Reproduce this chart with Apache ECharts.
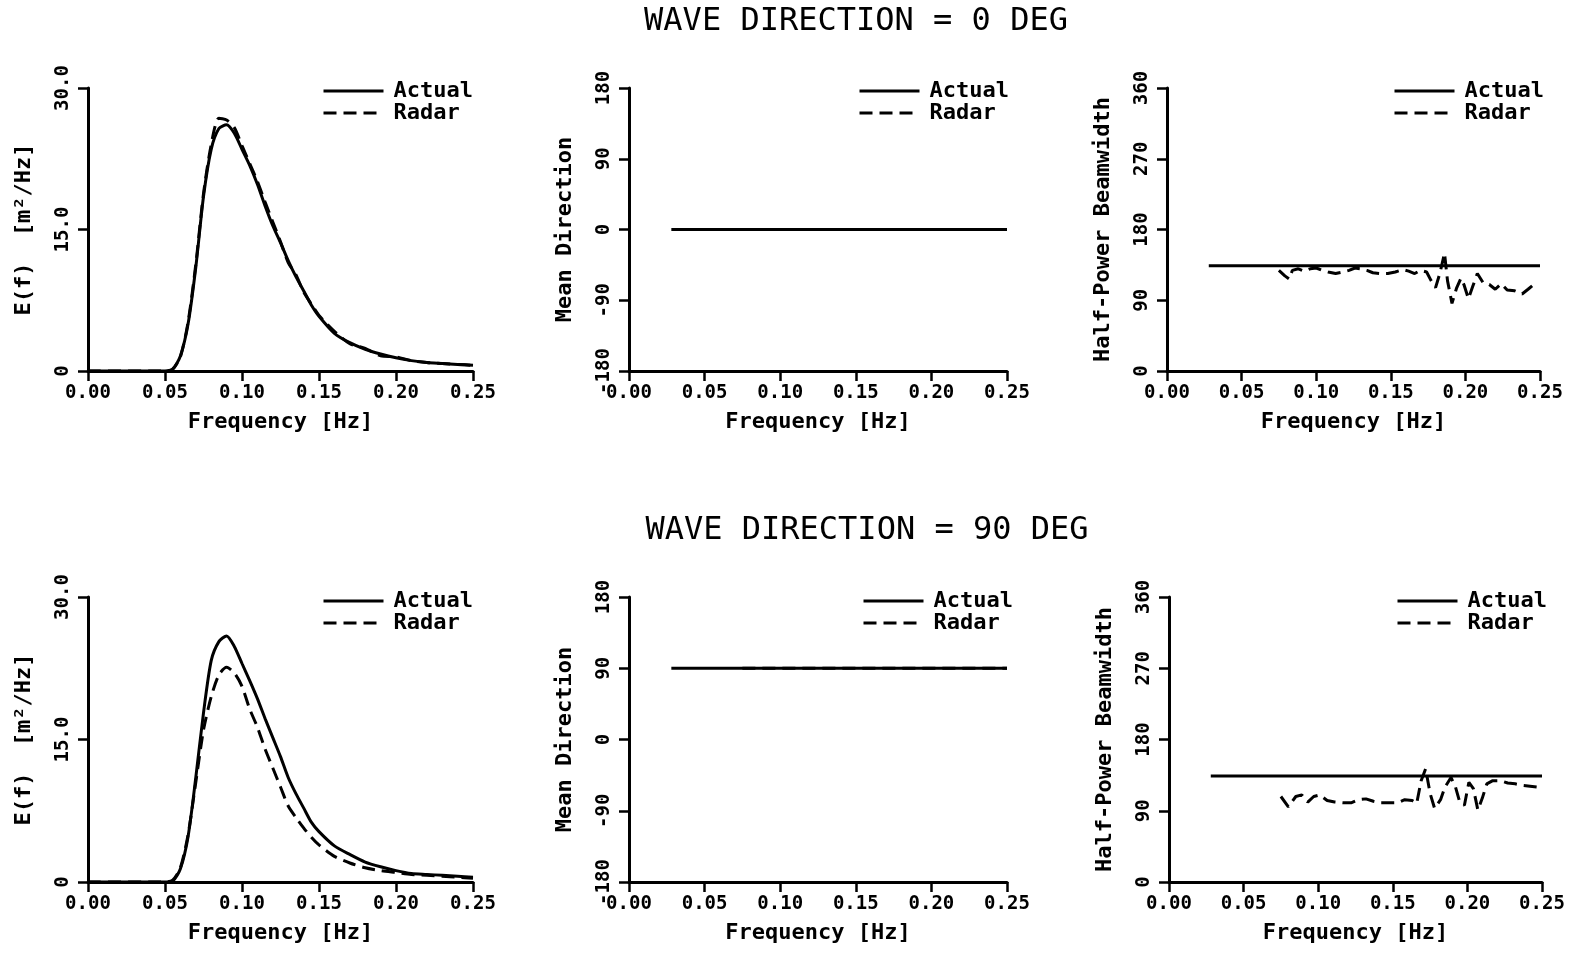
<!DOCTYPE html>
<html><head><meta charset="utf-8">
<script src="https://cdn.jsdelivr.net/npm/echarts@6/dist/echarts.min.js"></script>
<style>html,body{margin:0;padding:0;background:#fff}#c{width:1595px;height:953px}</style>
</head><body><div id="c"></div><script>
// ---------- DATA ----------
const rowTitles = ['WAVE DIRECTION = 0 DEG', 'WAVE DIRECTION = 90 DEG'];
const seriesNames = ['Actual', 'Radar'];
const xTicks = [0, 0.05, 0.10, 0.15, 0.20, 0.25];
const eTicks = [0, 15, 30];
const dirTicks = [-180, -90, 0, 90, 180];
const hpbTicks = [0, 90, 180, 270, 360];

// Energy spectrum E(f)
const freqE = [0, 0.05, 0.055, 0.06, 0.065, 0.07, 0.075, 0.08, 0.085, 0.09, 0.095, 0.10, 0.105, 0.11, 0.115, 0.12, 0.125, 0.13, 0.135, 0.14, 0.145, 0.15, 0.16, 0.17, 0.18, 0.19, 0.20, 0.21, 0.22, 0.23, 0.24, 0.25];
const topActualE = [0, 0, 0.2, 1.6, 5.0, 11.0, 18.5, 23.5, 25.7, 26.1, 25.2, 23.5, 21.8, 19.8, 17.5, 15.4, 13.6, 11.7, 10.0, 8.5, 7.0, 5.8, 4.0, 3.0, 2.3, 1.8, 1.4, 1.1, 0.9, 0.8, 0.7, 0.6];
const topRadarE  = [0, 0, 0.2, 1.5, 5.2, 11.3, 18.8, 24.0, 26.8, 26.6, 25.8, 23.9, 22.0, 20.1, 17.9, 15.8, 13.7, 11.5, 10.2, 8.4, 7.1, 5.9, 4.2, 2.9, 2.4, 1.6, 1.5, 1.1, 0.9, 0.8, 0.7, 0.6];
const botActualE = [0, 0, 0.1, 1.4, 4.8, 11.0, 17.8, 23.3, 25.3, 25.9, 24.8, 23.0, 21.2, 19.3, 17.2, 15.2, 13.2, 11.0, 9.3, 7.8, 6.3, 5.3, 3.8, 2.9, 2.1, 1.6, 1.2, 0.9, 0.8, 0.7, 0.6, 0.5];
const botRadarE  = [0, 0, 0.2, 1.5, 5.0, 10.5, 16.0, 19.5, 21.8, 22.6, 22.0, 20.6, 18.2, 16.3, 14.0, 12.0, 10.0, 8.0, 6.8, 5.7, 4.7, 3.9, 2.7, 2.0, 1.5, 1.2, 1.0, 0.8, 0.7, 0.6, 0.5, 0.4];

// Mean direction
const freqDirActual = [0.028, 0.05, 0.075, 0.10, 0.125, 0.15, 0.175, 0.20, 0.225, 0.25];
const freqDirRadar  = [0.075, 0.10, 0.125, 0.15, 0.175, 0.20, 0.225, 0.25];
const topDirActual = [0, 0, 0, 0, 0, 0, 0, 0, 0, 0];
const topDirRadar  = [0, 0, 0, 0, 0, 0, 0, 0];
const botDirActual = [90, 90, 90, 90, 90, 90, 90, 90, 90, 90];
const botDirRadar  = [90, 90, 90, 90, 90, 90, 90, 90];

// Half-power beamwidth
const freqHpbActual = [0.028, 0.05, 0.075, 0.10, 0.125, 0.15, 0.175, 0.20, 0.225, 0.25];
const topHpbActual = [134, 134, 134, 134, 134, 134, 134, 134, 134, 134];
const botHpbActual = [134, 134, 134, 134, 134, 134, 134, 134, 134, 134];
const topHpbRadarFreq = [0.075, 0.079, 0.082, 0.084, 0.088, 0.092, 0.096, 0.10, 0.104, 0.108, 0.113, 0.118, 0.122, 0.126, 0.13, 0.134, 0.138, 0.143, 0.148, 0.153, 0.158, 0.162, 0.166, 0.17, 0.174, 0.177, 0.18, 0.183, 0.186, 0.188, 0.191, 0.194, 0.197, 0.199, 0.202, 0.205, 0.208, 0.212, 0.216, 0.22, 0.224, 0.228, 0.233, 0.238, 0.242, 0.247];
const topHpbRadar = [128, 121, 117, 128, 130, 127, 130, 131, 128, 126, 124, 126, 128, 131, 130, 128, 125, 124, 124, 126, 129, 127, 124, 128, 126, 115, 106, 125, 150, 115, 86, 105, 118, 110, 92, 108, 124, 112, 110, 104, 111, 103, 102, 98, 104, 112];
const botHpbRadarFreq = [0.075, 0.080, 0.085, 0.089, 0.093, 0.097, 0.101, 0.106, 0.111, 0.117, 0.122, 0.127, 0.132, 0.137, 0.142, 0.148, 0.153, 0.158, 0.163, 0.166, 0.169, 0.172, 0.175, 0.178, 0.182, 0.185, 0.189, 0.192, 0.195, 0.198, 0.201, 0.204, 0.207, 0.210, 0.213, 0.217, 0.222, 0.227, 0.232, 0.237, 0.242, 0.247];
const botHpbRadar = [108, 95, 108, 110, 101, 108, 110, 103, 101, 100, 100, 104, 105, 102, 100, 100, 100, 104, 103, 99, 128, 143, 112, 93, 104, 120, 132, 120, 100, 97, 126, 118, 91, 106, 124, 128, 128, 125, 124, 122, 121, 120];

// ---------- CHART ----------
const FONT = 'DejaVu Sans Mono';
const pair = (xs, ys) => xs.map((x, i) => [x, ys[i]]);

const grids = [
  {left: 88, top: 88, width: 385, height: 283},
  {left: 629, top: 88, width: 378, height: 283},
  {left: 1167, top: 88, width: 373, height: 283},
  {left: 88, top: 597, width: 385, height: 285},
  {left: 629, top: 597, width: 378, height: 285},
  {left: 1169, top: 597, width: 373, height: 285}
];
const legendPos = [[317, 75], [853, 75], [1388, 75], [317, 585], [857, 585], [1391, 585]];

const yDefs = [
  {ticks: eTicks, name: 'E(f)  [m²/Hz]', fmt: v => v === 0 ? '0' : v.toFixed(1)},
  {ticks: dirTicks, name: 'Mean Direction', fmt: v => String(v)},
  {ticks: hpbTicks, name: 'Half-Power Beamwidth', fmt: v => String(v)}
];

const axisLine = {show: true, onZero: false, lineStyle: {color: '#000', width: 3}};
const axisTick = {show: true, inside: false, length: 10, lineStyle: {color: '#000', width: 2.5}};

const xAxis = grids.map((g, i) => ({
  type: 'value', gridIndex: i, min: xTicks[0], max: xTicks[xTicks.length - 1],
  interval: xTicks[1] - xTicks[0],
  axisLine, axisTick, splitLine: {show: false},
  axisLabel: {color: '#000', fontFamily: FONT, fontWeight: 'bold', fontSize: 19, margin: 13,
    formatter: v => v.toFixed(2)},
  name: 'Frequency [Hz]', nameLocation: 'middle', nameGap: 40,
  nameTextStyle: {color: '#000', fontFamily: FONT, fontWeight: 'bold', fontSize: 22}
}));

const yAxis = grids.map((g, i) => {
  const d = yDefs[i % 3];
  return {
    type: 'value', gridIndex: i, min: d.ticks[0], max: d.ticks[d.ticks.length - 1],
    interval: d.ticks[1] - d.ticks[0],
    axisLine, axisTick, splitLine: {show: false},
    axisLabel: {color: '#000', fontFamily: FONT, fontWeight: 'bold', fontSize: 19, margin: 15,
      rotate: 90, formatter: d.fmt},
    name: d.name, nameLocation: 'middle', nameGap: 53,
    nameTextStyle: {color: '#000', fontFamily: FONT, fontWeight: 'bold', fontSize: 22}
  };
});

const solid = {color: '#000', width: 3, type: 'solid'};
const dashed = {color: '#000', width: 3, type: [13, 7]};
function mk(name, gi, data, style, smooth) {
  return {name, type: 'line', xAxisIndex: gi, yAxisIndex: gi, data, symbol: 'none',
    smooth: smooth ? 0.25 : false, lineStyle: style, itemStyle: {color: '#000'}, animation: false,
    z: name === 'Radar' ? 3 : 2};
}
const series = [
  mk('Actual', 0, pair(freqE, topActualE), solid, true),
  mk('Radar', 0, pair(freqE, topRadarE), dashed, true),
  mk('Actual', 1, pair(freqDirActual, topDirActual), solid),
  mk('Radar', 1, pair(freqDirRadar, topDirRadar), dashed),
  mk('Actual', 2, pair(freqHpbActual, topHpbActual), solid),
  mk('Radar', 2, pair(topHpbRadarFreq, topHpbRadar), dashed),
  mk('Actual', 3, pair(freqE, botActualE), solid, true),
  mk('Radar', 3, pair(freqE, botRadarE), dashed, true),
  mk('Actual', 4, pair(freqDirActual, botDirActual), solid),
  mk('Radar', 4, pair(freqDirRadar, botDirRadar), dashed),
  mk('Actual', 5, pair(freqHpbActual, botHpbActual), solid),
  mk('Radar', 5, pair(botHpbRadarFreq, botHpbRadar), dashed)
];

const legend = legendPos.map(p => ({
  left: p[0], top: p[1], orient: 'vertical', itemWidth: 60, itemHeight: 14, itemGap: 0,
  data: seriesNames, selectedMode: false,
  itemStyle: {color: 'rgba(0,0,0,0)', borderWidth: 0, opacity: 0},
  lineStyle: {width: 3, color: '#000'},
  textStyle: {color: '#000', fontFamily: FONT, fontWeight: 'bold', fontSize: 22, lineHeight: 17,
    padding: [0, 0, 0, 5]}
}));

const graphic = [
  {type: 'text', x: 856, y: 22, style: {text: rowTitles[0], fill: '#000', font: '32px "' + FONT + '"',
    align: 'center', verticalAlign: 'middle', textAlign: 'center', textVerticalAlign: 'middle'}},
  {type: 'text', x: 867, y: 531, style: {text: rowTitles[1], fill: '#000', font: '32px "' + FONT + '"',
    align: 'center', verticalAlign: 'middle', textAlign: 'center', textVerticalAlign: 'middle'}}
];

const chart = echarts.init(document.getElementById('c'), null, {renderer: 'canvas'});
chart.setOption({backgroundColor: '#fff', animation: false, grid: grids, xAxis, yAxis, series, legend, graphic});
</script></body></html>
